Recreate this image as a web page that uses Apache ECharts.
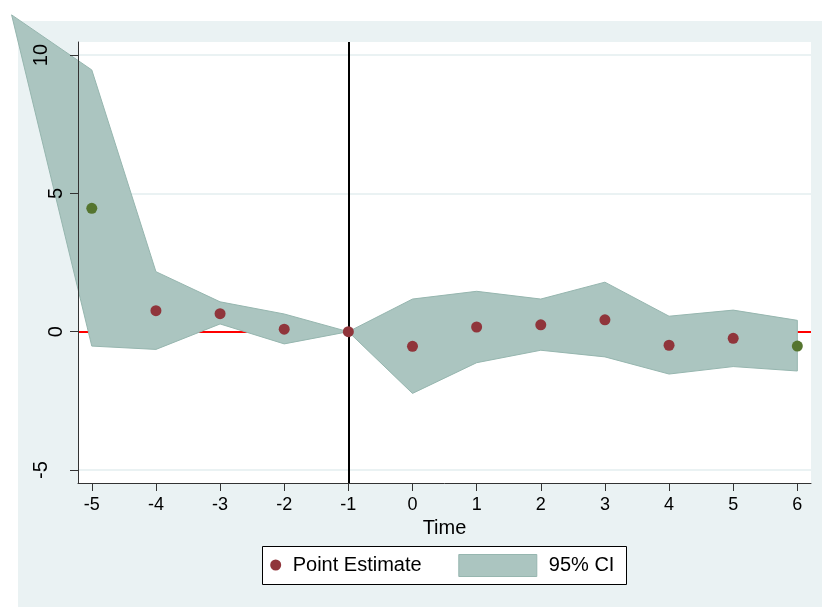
<!DOCTYPE html>
<html>
<head>
<meta charset="utf-8">
<style>
  html, body { margin: 0; padding: 0; background: #ffffff; }
  #chart { width: 822px; height: 607px; }
</style>
<script src="https://cdn.jsdelivr.net/npm/echarts@6/dist/echarts.min.js"></script>
</head>
<body>
<div id="chart"></div>
<script>
// Event-time axis and value axis ticks
const timeTicks = [-5, -4, -3, -2, -1, 0, 1, 2, 3, 4, 5, 6];
const valueTicks = [-5, 0, 5, 10];

// Point estimates (interior periods)
const estTime = [-4, -3, -2, -1, 0, 1, 2, 3, 4, 5];
const estValue = [0.76, 0.65, 0.09, 0, -0.53, 0.17, 0.25, 0.43, -0.49, -0.24];

// Point estimates at the end periods
const endTime = [-5, 6];
const endValue = [4.46, -0.52];

// 95% confidence band vertices
const ciTime = [-6.25, -5, -4, -3, -2, -1, 0, 1, 2, 3, 4, 5, 6];
const ciUpper = [11.45, 9.46, 2.17, 1.08, 0.64, 0, 1.18, 1.46, 1.18, 1.79, 0.56, 0.78, 0.41];
const ciLower = [11.45, -0.52, -0.64, 0.28, -0.44, 0, -2.23, -1.12, -0.67, -0.91, -1.53, -1.26, -1.42];

// Reference lines
const zeroLine = 0;
const eventTime = -1;

const FONT = "'Liberation Sans', Arial, sans-serif";
const BG = '#eaf2f3';
const CI_FILL = '#abc5c0';
const CI_EDGE = '#96b6af';
const EST_COLOR = '#90353b';
const END_COLOR = '#55752f';
const AXIS_COLOR = '#333333';

const chart = echarts.init(document.getElementById('chart'), null, { renderer: 'canvas' });

const option = {
  animation: false,
  backgroundColor: '#ffffff',
  textStyle: { fontFamily: FONT },
  graphic: [
    {
      type: 'rect', silent: true, z: -10,
      shape: { x: 18, y: 21, width: 804, height: 586 },
      style: { fill: BG }
    },
    {
      type: 'rect', silent: true, z: 3,
      shape: { x: 262.5, y: 546.5, width: 364, height: 38 },
      style: { fill: '#ffffff', stroke: '#000000', lineWidth: 1 }
    }
  ],
  grid: {
    left: 78, top: 42, width: 733, height: 441,
    show: true, backgroundColor: '#ffffff', borderWidth: 0,
    containLabel: false, outerBoundsMode: 'none'
  },
  legend: [
    {
      data: [{ name: 'Point Estimate', icon: 'circle' }],
      left: 270.2, top: 555, padding: 0,
      itemWidth: 11, itemHeight: 11, z: 5,
      selectedMode: false,
      textStyle: { fontFamily: FONT, fontSize: 20, color: '#000000', padding: [0, 0, 0, 6.5] }
    },
    {
      data: [{ name: '95% CI', icon: 'rect' }],
      left: 458.3, top: 554, padding: 0,
      itemWidth: 78, itemHeight: 22, z: 5,
      selectedMode: false,
      itemStyle: { color: CI_FILL, borderColor: CI_EDGE, borderWidth: 1 },
      textStyle: { fontFamily: FONT, fontSize: 20, color: '#000000', padding: [0, 0, 0, 7] }
    }
  ],
  xAxis: {
    type: 'value',
    min: -5.215, max: 6.213,
    z: 4,
    name: 'Time', nameLocation: 'middle', nameGap: 31,
    nameTextStyle: { fontFamily: FONT, fontSize: 20, color: '#000000' },
    axisLine: { show: true, onZero: false, lineStyle: { color: AXIS_COLOR, width: 1 } },
    axisTick: { show: true, customValues: timeTicks, length: 8, lineStyle: { color: AXIS_COLOR, width: 1 } },
    axisLabel: { customValues: timeTicks, fontSize: 18, margin: 13, color: '#000000', fontFamily: FONT },
    splitLine: { show: false }
  },
  yAxis: {
    type: 'value',
    min: -5.468, max: 10.47,
    z: 4,
    axisLine: { show: true, onZero: false, lineStyle: { color: AXIS_COLOR, width: 1 } },
    axisTick: { show: true, customValues: valueTicks, length: 8, lineStyle: { color: AXIS_COLOR, width: 1 } },
    axisLabel: {
      customValues: valueTicks, rotate: 90, margin: 12, color: '#000000',
      fontSize: 20, fontFamily: FONT,
      formatter: function (v) {
        const s = String(v);
        return s.length > 1 ? '{w|' + s + '}' : '{n|' + s + '}';
      },
      rich: {
        w: { fontSize: 20, fontFamily: FONT, color: '#000000', padding: [0, 0, 15, 0] },
        n: { fontSize: 20, fontFamily: FONT, color: '#000000' }
      }
    },
    splitLine: { show: false }
  },
  series: [
    {
      // gridlines and the zero reference line, beneath the band
      name: 'guides', type: 'line', data: [], z: 1, silent: true,
      markLine: {
        z: 1, silent: true, symbol: 'none', label: { show: false },
        data: valueTicks.filter(v => v !== zeroLine).map(v => ({
          yAxis: v, lineStyle: { color: BG, width: 2, type: 'solid' }
        })).concat([
          { yAxis: zeroLine, lineStyle: { color: '#ff0000', width: 2, type: 'solid' } }
        ])
      }
    },
    {
      name: '95% CI', type: 'custom', z: 2, clip: false, silent: true,
      itemStyle: { color: CI_FILL, borderColor: CI_EDGE },
      data: [[ciTime[0], ciUpper[0]]],
      renderItem: function (params, api) {
        const upper = ciTime.map((t, i) => api.coord([t, ciUpper[i]]));
        const lower = ciTime.map((t, i) => api.coord([t, ciLower[i]])).reverse();
        return {
          type: 'polygon',
          shape: { points: upper.concat(lower) },
          style: { fill: CI_FILL, stroke: CI_EDGE, lineWidth: 1 }
        };
      }
    },
    {
      // vertical reference line at the last pre-event period
      name: 'event', type: 'line', data: [], z: 5, silent: true,
      markLine: {
        z: 5, silent: true, symbol: 'none', label: { show: false },
        data: [{ xAxis: eventTime, lineStyle: { color: '#000000', width: 2, type: 'solid' } }]
      }
    },
    {
      name: 'Point Estimate', type: 'scatter', z: 6, silent: true,
      symbol: 'circle', symbolSize: 11,
      itemStyle: { color: EST_COLOR, opacity: 1 },
      data: estTime.map((t, i) => [t, estValue[i]])
    },
    {
      name: 'End periods', type: 'scatter', z: 6, silent: true,
      symbol: 'circle', symbolSize: 11,
      itemStyle: { color: END_COLOR, opacity: 1 },
      data: endTime.map((t, i) => [t, endValue[i]])
    }
  ]
};

chart.setOption(option);
</script>
</body>
</html>
